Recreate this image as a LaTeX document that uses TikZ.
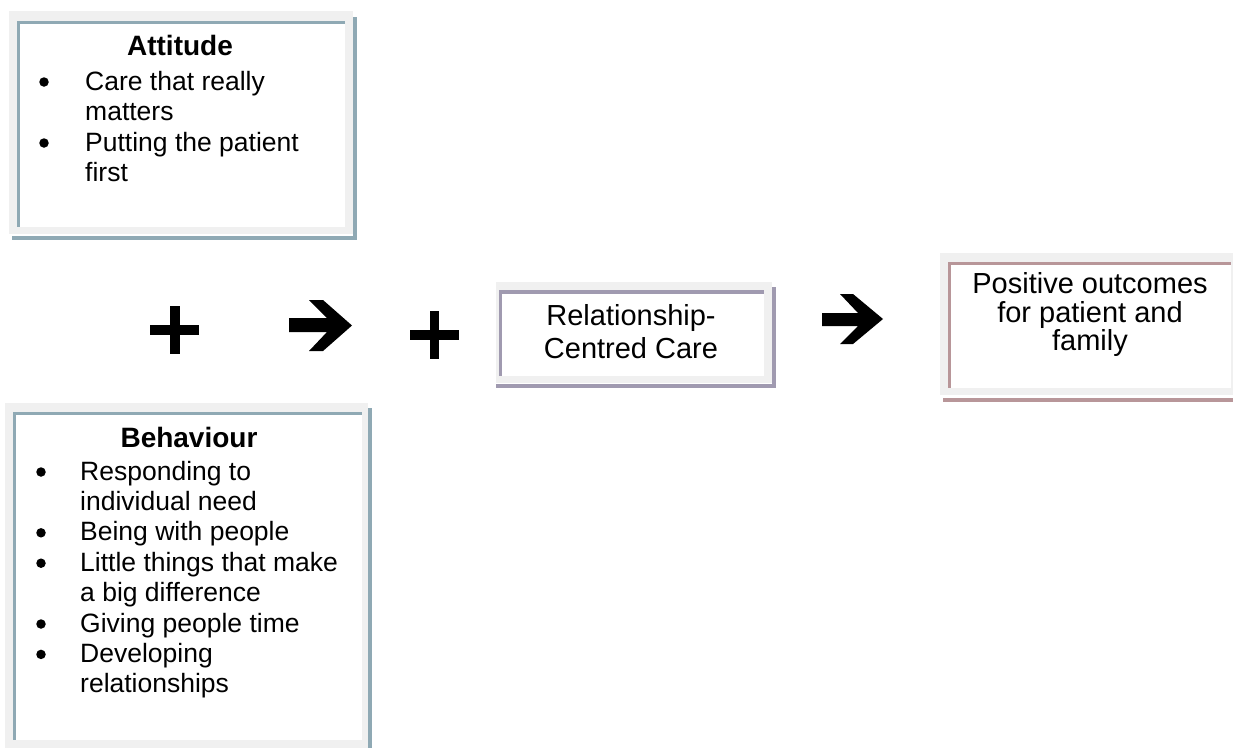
\documentclass[tikz,border=0pt]{standalone}
\usepackage{fontspec}
\setmainfont{Liberation Sans}
\definecolor{attframe}{RGB}{143,169,180}
\definecolor{relframe}{RGB}{160,154,176}
\definecolor{posframe}{RGB}{184,150,153}
\definecolor{panelgray}{RGB}{240,240,240}
\begin{document}
\begin{tikzpicture}[x=1pt,y=-1pt,
  panel/.style={fill=white, draw=none, inner sep=0pt, anchor=north west},
  bodytext/.style={anchor=base west, inner sep=0pt, font=\fontsize{26.5}{30}\selectfont},
  bulletdot/.style={circle, fill=black, draw=none, inner sep=0pt, minimum size=9.5pt},
  titletext/.style={anchor=base, inner sep=0pt, font=\fontsize{28}{32}\selectfont\bfseries},
  boxtext/.style={anchor=base, inner sep=0pt, font=\fontsize{29}{33}\selectfont},
  symbolfill/.style={fill=black, draw=none}]
\useasboundingbox (0,0) rectangle (1233,747);
\clip (0,0) rectangle (1233,747);

% ---------- Attitude panel ----------
\fill[attframe] (353,17) rectangle (357,240);
\fill[attframe] (12,236) rectangle (357,240);
\fill[panelgray] (9,11) rectangle (353,234);
\node[panel, minimum width=328pt, minimum height=206pt] (attitude) at (17,21) {};
\fill[attframe] (17,21) rectangle (345,24);
\fill[attframe] (17,21) rectangle (20,227);
\node[titletext] (atttitle) at (180,55) {Attitude};
\node[bulletdot] (attb1) at (44,82) {};
\node[bodytext] (attl1) at (85,90) {Care that really};
\node[bodytext] (attl2) at (85,120.5) {matters};
\node[bulletdot] (attb2) at (44,143) {};
\node[bodytext] (attl3) at (85,151) {Putting the patient};
\node[bodytext] (attl4) at (85,181.5) {first};

% ---------- Behaviour panel ----------
\fill[attframe] (368,408) rectangle (372,760);
\fill[panelgray] (5,403) rectangle (368,760);
\node[panel, minimum width=349pt, minimum height=328pt] (behaviour) at (13,412) {};
\fill[attframe] (13,412) rectangle (362,415);
\fill[attframe] (13,412) rectangle (16,740);
\node[titletext] (behtitle) at (189,447) {Behaviour};
\node[bulletdot] (behb1) at (41,472) {};
\node[bodytext] (behl1) at (80,480) {Responding to};
\node[bodytext] (behl2) at (80,510.4) {individual need};
\node[bulletdot] (behb2) at (41,532.8) {};
\node[bodytext] (behl3) at (80,540.8) {Being with people};
\node[bulletdot] (behb3) at (41,563.2) {};
\node[bodytext] (behl4) at (80,571.2) {Little things that make};
\node[bodytext] (behl5) at (80,601.6) {a big difference};
\node[bulletdot] (behb4) at (41,624) {};
\node[bodytext] (behl6) at (80,632) {Giving people time};
\node[bulletdot] (behb5) at (41,654.4) {};
\node[bodytext] (behl7) at (80,662.4) {Developing};
\node[bodytext] (behl8) at (80,692.8) {relationships};

% ---------- Relationship-Centred Care panel ----------
\fill[relframe] (772,287) rectangle (776,388);
\fill[relframe] (496,384) rectangle (776,388);
\fill[panelgray] (496,282) rectangle (772,383);
\node[panel, minimum width=265pt, minimum height=86pt] (rcc) at (499,290) {};
\fill[relframe] (499,290) rectangle (764,294);
\fill[relframe] (499,290) rectangle (502,376);
\node[boxtext] (rccl1) at (631,325) {Relationship-};
\node[boxtext] (rccl2) at (631,358) {Centred Care};

% ---------- Positive outcomes panel ----------
\fill[posframe] (1233,258) rectangle (1240,402);
\fill[posframe] (943,398) rectangle (1240,402);
\fill[panelgray] (940,253) rectangle (1240,395);
\node[panel, minimum width=283pt, minimum height=126pt] (outcomes) at (948,262) {};
\fill[posframe] (948,262) rectangle (1231,265);
\fill[posframe] (948,262) rectangle (951,388);
\node[boxtext] (outl1) at (1090,293) {Positive outcomes};
\node[boxtext] (outl2) at (1090,322) {for patient and};
\node[boxtext] (outl3) at (1090,350) {family};

% ---------- plus signs ----------
\fill[symbolfill] (150,325) rectangle (199,335);
\fill[symbolfill] (170,306) rectangle (180,354);
\fill[symbolfill] (410,330) rectangle (459,340);
\fill[symbolfill] (430,311) rectangle (439,359);

% ---------- block arrows ----------
\fill[symbolfill] (289,318) -- (327,318) -- (309,300) -- (323,300) -- (352,325.5)
  -- (323,351) -- (309,351) -- (327,332) -- (289,332) -- cycle;
\fill[symbolfill] (822,313) -- (858,313) -- (840,294) -- (853,294) -- (883,319)
  -- (853,344) -- (840,344) -- (858,326) -- (822,326) -- cycle;
\end{tikzpicture}
\end{document}
